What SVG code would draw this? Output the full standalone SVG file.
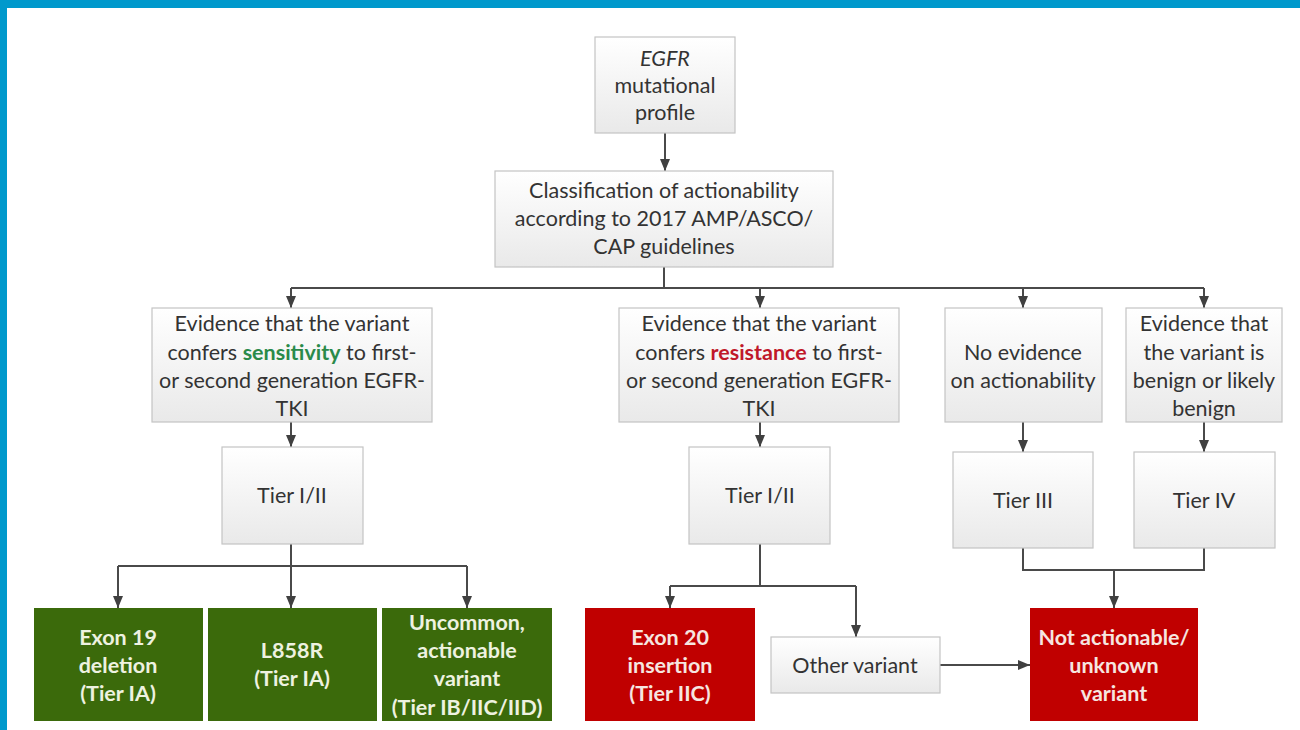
<svg xmlns="http://www.w3.org/2000/svg" width="1300" height="730" viewBox="0 0 1300 730">
<defs>
<linearGradient id="gr" x1="0" y1="0" x2="0" y2="1">
<stop offset="0" stop-color="#FFFFFF"/>
<stop offset="1" stop-color="#E9E9E9"/>
</linearGradient>
<marker id="arr" viewBox="0 0 12 12" refX="12" refY="6" markerWidth="12" markerHeight="12" markerUnits="userSpaceOnUse" orient="auto">
<path d="M0,1 L12,6 L0,11 z" fill="#404040"/>
</marker>
</defs>
<style>
.g{fill:url(#gr);stroke:#C4C4C4;stroke-width:1.2}
.gn{fill:#3B6A0B}
.rd{fill:#C00000}
text{font-family:Lato,"Open Sans","Liberation Sans",sans-serif;font-size:21.5px;text-anchor:middle;fill:#333333}
.w{fill:#EEF2E0;font-weight:bold}
.wr{fill:#F6E6E0;font-weight:bold}
.c{fill:none;stroke:#4A4A4A;stroke-width:2}
</style>
<rect x="0" y="0" width="1300" height="730" fill="#FFFFFF"/>
<rect x="0" y="0" width="1300" height="8" fill="#0099CC"/>
<rect x="0" y="0" width="7" height="730" fill="#0099CC"/>

<g id="connectors">
<path class="c" d="M665,133 V171" marker-end="url(#arr)"/>
<path class="c" d="M664,267 V288"/>
<path class="c" d="M291,288 H1204"/>
<path class="c" d="M291,288 V308" marker-end="url(#arr)"/>
<path class="c" d="M760,288 V308" marker-end="url(#arr)"/>
<path class="c" d="M1023,288 V308" marker-end="url(#arr)"/>
<path class="c" d="M1204,288 V308" marker-end="url(#arr)"/>
<path class="c" d="M291,422 V447" marker-end="url(#arr)"/>
<path class="c" d="M760,422 V447" marker-end="url(#arr)"/>
<path class="c" d="M1023,422 V452" marker-end="url(#arr)"/>
<path class="c" d="M1204,422 V452" marker-end="url(#arr)"/>
<path class="c" d="M291,544 V566"/>
<path class="c" d="M118,566 H467"/>
<path class="c" d="M118,566 V608" marker-end="url(#arr)"/>
<path class="c" d="M291,566 V608" marker-end="url(#arr)"/>
<path class="c" d="M467,566 V608" marker-end="url(#arr)"/>
<path class="c" d="M760,544 V586"/>
<path class="c" d="M670,586 H856"/>
<path class="c" d="M670,586 V608" marker-end="url(#arr)"/>
<path class="c" d="M856,586 V637" marker-end="url(#arr)"/>
<path class="c" d="M1023,548 V570 H1204 V548"/>
<path class="c" d="M1114,570 V608" marker-end="url(#arr)"/>
<path class="c" d="M940,665 H1030" marker-end="url(#arr)"/>
</g>

<g id="n-egfr">
<rect class="g" x="595" y="37" width="140" height="96"/>
<text x="665" y="66" font-style="italic">EGFR</text>
<text x="665" y="93">mutational</text>
<text x="665" y="120">profile</text>
</g>

<g id="n-class">
<rect class="g" x="495" y="171" width="338" height="96"/>
<text x="664" y="198">Classification of actionability</text>
<text x="664" y="226">according to 2017 AMP/ASCO/</text>
<text x="664" y="254">CAP guidelines</text>
</g>

<g id="n-sens">
<rect class="g" x="152" y="308" width="280" height="114"/>
<text x="292" y="331">Evidence that the variant</text>
<text x="292" y="360">confers <tspan font-weight="bold" fill="#2A8A4A">sensitivity</tspan> to first-</text>
<text x="292" y="388">or second generation EGFR-</text>
<text x="292" y="416">TKI</text>
</g>

<g id="n-res">
<rect class="g" x="619" y="308" width="280" height="114"/>
<text x="759" y="331">Evidence that the variant</text>
<text x="759" y="360">confers <tspan font-weight="bold" fill="#C0182A">resistance</tspan> to first-</text>
<text x="759" y="388">or second generation EGFR-</text>
<text x="759" y="416">TKI</text>
</g>

<g id="n-noev">
<rect class="g" x="945" y="308" width="157" height="114"/>
<text x="1023" y="360">No evidence</text>
<text x="1023" y="388">on actionability</text>
</g>

<g id="n-benign">
<rect class="g" x="1126" y="308" width="156" height="114"/>
<text x="1204" y="331">Evidence that</text>
<text x="1204" y="360">the variant is</text>
<text x="1204" y="388">benign or likely</text>
<text x="1204" y="416">benign</text>
</g>

<g id="n-tier12a">
<rect class="g" x="222" y="447" width="141" height="97"/>
<text x="292" y="503">Tier I/II</text>
</g>

<g id="n-tier12b">
<rect class="g" x="689" y="447" width="141" height="97"/>
<text x="760" y="503">Tier I/II</text>
</g>

<g id="n-tier3">
<rect class="g" x="953" y="452" width="140" height="96"/>
<text x="1023" y="508">Tier III</text>
</g>

<g id="n-tier4">
<rect class="g" x="1134" y="452" width="141" height="96"/>
<text x="1204" y="508">Tier IV</text>
</g>

<g id="n-exon19">
<rect class="gn" x="34" y="608" width="169" height="113"/>
<text class="w" x="118" y="645">Exon 19</text>
<text class="w" x="118" y="673">deletion</text>
<text class="w" x="118" y="701">(Tier IA)</text>
</g>

<g id="n-l858r">
<rect class="gn" x="208" y="608" width="169" height="113"/>
<text class="w" x="292" y="658">L858R</text>
<text class="w" x="292" y="686">(Tier IA)</text>
</g>

<g id="n-uncommon">
<rect class="gn" x="382" y="608" width="170" height="113"/>
<text class="w" x="467" y="630">Uncommon,</text>
<text class="w" x="467" y="658">actionable</text>
<text class="w" x="467" y="686">variant</text>
<text class="w" x="467" y="715">(Tier IB/IIC/IID)</text>
</g>

<g id="n-exon20">
<rect class="rd" x="585" y="608" width="170" height="113"/>
<text class="wr" x="670" y="645">Exon 20</text>
<text class="wr" x="670" y="673">insertion</text>
<text class="wr" x="670" y="701">(Tier IIC)</text>
</g>

<g id="n-other">
<rect class="g" x="771" y="637" width="169" height="56"/>
<text x="855" y="673">Other variant</text>
</g>

<g id="n-notact">
<rect class="rd" x="1030" y="608" width="168" height="113"/>
<text class="wr" x="1114" y="645">Not actionable/</text>
<text class="wr" x="1114" y="673">unknown</text>
<text class="wr" x="1114" y="701">variant</text>
</g>
</svg>
